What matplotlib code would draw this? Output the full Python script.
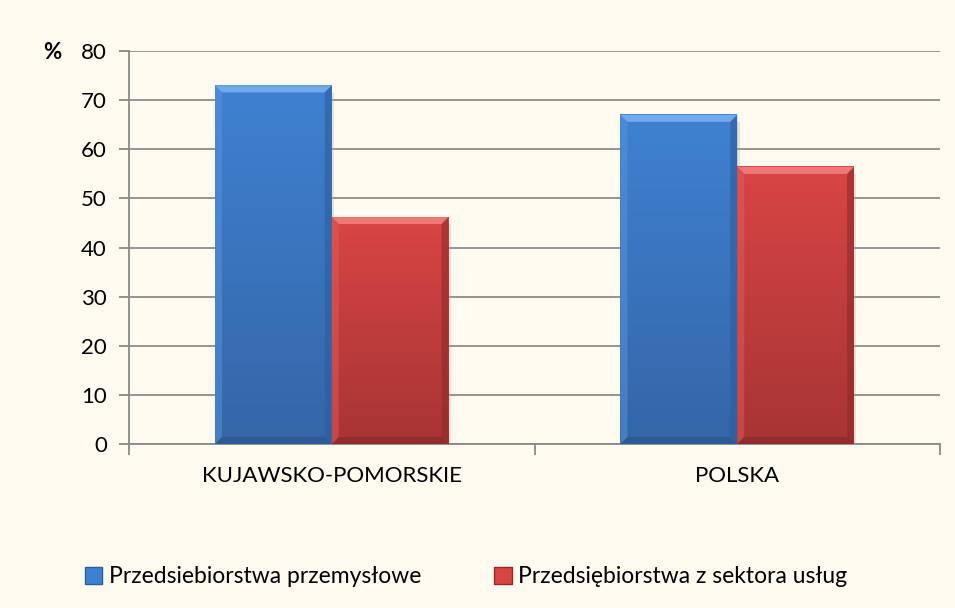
import numpy as np
import matplotlib.pyplot as plt
from matplotlib.colors import LinearSegmentedColormap
from matplotlib.patches import Polygon, Patch

plt.rcParams['font.family'] = ['Lato', 'DejaVu Sans']

categories = ['KUJAWSKO-POMORSKIE', 'POLSKA']
przemyslowe = [73.0, 67.0]
uslugi = [46.2, 56.4]
series_names = ['Przedsiebiorstwa przemysłowe', 'Przedsiębiorstwa z sektora usług']
yticks = [0, 10, 20, 30, 40, 50, 60, 70, 80]

bg = '#fefaef'
fig = plt.figure(figsize=(9.55, 6.08), dpi=100, facecolor=bg)
ax = fig.add_axes([0.1351, 0.2697, 0.8492, 0.6464], facecolor=bg)
ax.set_xlim(0, 2)
ax.set_ylim(0, 80)

styles = [
    # top colour, bottom colour, top bevel, left bevel, right bevel, bottom bevel
    ('#3f81d1', '#3466a7', '#72a9ea', '#5a95dc', '#2c5e9e', '#2b568c'),
    ('#d94545', '#a73434', '#ee7777', '#e05c5c', '#922a2a', '#8a2a2a'),
]

x = np.arange(len(categories)) + 0.5
w = 0.288
dx = 7 * 2 / 811   # bevel size in data units (~7 px)
dy = 7 * 80 / 393

def fancy_bar(x0, h, st):
    top_c, bot_c, tb, lb, rb, bb = st
    x1 = x0 + w
    # soft shadow
    ax.add_patch(Polygon([(x0 + 0.006, -0.8), (x1 + 0.006, -0.8), (x1 + 0.006, h - 1.5),
                          (x1, h - 1.5), (x1, 0), (x0 + 0.006, 0)],
                         closed=True, color='#b0ab9e', alpha=0.3, lw=0, zorder=2))
    cmap = LinearSegmentedColormap.from_list('g', [bot_c, top_c])
    grad = np.linspace(0, 1, 256).reshape(-1, 1)
    ax.imshow(grad, cmap=cmap, extent=(x0, x1, 0, h), origin='lower',
              aspect='auto', zorder=3, interpolation='bilinear')
    ax.add_patch(Polygon([(x0, h), (x1, h), (x1 - dx, h - dy), (x0 + dx, h - dy)],
                         closed=True, color=tb, lw=0, zorder=4))
    ax.add_patch(Polygon([(x0, 0), (x0, h), (x0 + dx, h - dy), (x0 + dx, dy)],
                         closed=True, color=lb, lw=0, zorder=4, alpha=0.5))
    ax.add_patch(Polygon([(x1, 0), (x1, h), (x1 - dx, h - dy), (x1 - dx, dy)],
                         closed=True, color=rb, lw=0, zorder=4, alpha=0.6))
    ax.add_patch(Polygon([(x0, 0), (x1, 0), (x1 - dx, dy), (x0 + dx, dy)],
                         closed=True, color=bb, lw=0, zorder=4, alpha=0.7))

for xi, h in zip(x - w, przemyslowe):
    fancy_bar(xi, h, styles[0])
for xi, h in zip(x, uslugi):
    fancy_bar(xi, h, styles[1])

ax.set_yticks(yticks)
ax.set_xticks([0, 1, 2])
ax.set_xticklabels([])
ax.set_xticks(x, minor=True)
ax.set_xticklabels(categories, minor=True)
ax.tick_params(axis='x', which='minor', length=0, pad=16, labelsize=16)
ax.tick_params(axis='x', which='major', length=8, width=1.3, color='#888888')
ax.tick_params(axis='y', length=7, width=1.3, color='#888888', labelsize=16, pad=9)
ax.grid(axis='y', color='#8c8c8c', linewidth=1.3, zorder=0)
ax.set_axisbelow(True)
for s in ['top', 'right']:
    ax.spines[s].set_visible(False)
for s in ['left', 'bottom']:
    ax.spines[s].set_color('#888888')
    ax.spines[s].set_linewidth(1.3)
    ax.spines[s].set_zorder(1)

fig.text(0.055, 0.914, '%', fontsize=16, fontweight='bold', ha='center', va='center')

handles = [Patch(facecolor=styles[0][0], edgecolor=styles[0][4]),
           Patch(facecolor=styles[1][0], edgecolor=styles[1][4])]
fig.legend(handles=handles, labels=series_names, loc='center', bbox_to_anchor=(0.488, 0.051),
           ncol=2, frameon=False, fontsize=16.5, handlelength=0.75, handleheight=0.75,
           handletextpad=0.3, columnspacing=3.2)

fig.savefig('out.png', dpi=100, facecolor=bg)
